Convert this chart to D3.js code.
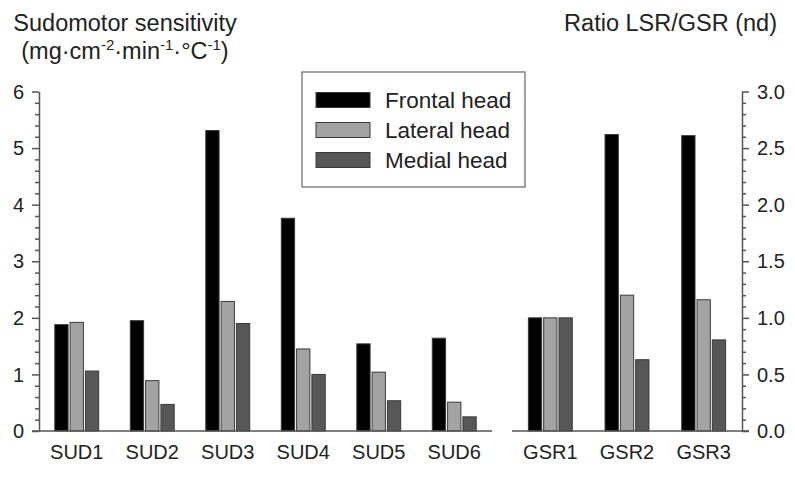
<!DOCTYPE html>
<html>
<head>
<meta charset="utf-8">
<script src="https://cdn.jsdelivr.net/npm/d3@7"></script>
<style>
  html, body { margin: 0; padding: 0; background: #fff; }
  svg { display: block; font-family: "Liberation Sans", Arial, sans-serif; }
</style>
</head>
<body>
<svg id="chart" width="795" height="481"></svg>
<script>
// Sudomotor sensitivity per site (left panel)
const sudCategories = ["SUD1", "SUD2", "SUD3", "SUD4", "SUD5", "SUD6"];
const sudFrontal = [1.88, 1.95, 5.31, 3.76, 1.54, 1.64];
const sudLateral = [1.92, 0.89, 2.29, 1.45, 1.04, 0.51];
const sudMedial  = [1.06, 0.47, 1.90, 1.00, 0.535, 0.25];

// LSR/GSR ratio (right panel)
const gsrCategories = ["GSR1", "GSR2", "GSR3"];
const gsrFrontal = [1.0, 2.62, 2.61];
const gsrLateral = [1.0, 1.20, 1.16];
const gsrMedial  = [1.0, 0.63, 0.805];

const seriesNames = ["Frontal head", "Lateral head", "Medial head"];
const seriesFill = ["#000000", "#a3a3a3", "#575757"];

const leftTicks = [0, 1, 2, 3, 4, 5, 6];
const rightTicks = [0, 0.5, 1.0, 1.5, 2.0, 2.5, 3.0];

const svg = d3.select("#chart");
const axisColor = "#555";
const barStroke = "#3a3a3a";

const y0 = 431, yTop = 91.5;
const yLeft = d3.scaleLinear().domain([0, 6]).range([y0, yTop]);
const yRight = d3.scaleLinear().domain([0, 3]).range([y0, yTop]);

const xLeft = d3.scaleBand().domain(sudCategories).range([39, 492]).padding(0);
const xRight = d3.scaleBand().domain(gsrCategories).range([512, 742]).padding(0);

const barW = 13.3, barStep = 15.3;

function drawBars(cats, seriesArr, x, y) {
  const g = svg.append("g");
  seriesArr.forEach((vals, si) => {
    g.selectAll(null)
      .data(cats.map((c, i) => ({ c, v: vals[i] })))
      .enter().append("rect")
      .attr("x", d => x(d.c) + x.bandwidth() / 2 + (si - 1) * barStep - barW / 2)
      .attr("y", d => y(d.v))
      .attr("width", barW)
      .attr("height", d => y(0) - y(d.v))
      .attr("fill", seriesFill[si])
      .attr("stroke", barStroke)
      .attr("stroke-width", 1);
  });
}

drawBars(sudCategories, [sudFrontal, sudLateral, sudMedial], xLeft, yLeft);
drawBars(gsrCategories, [gsrFrontal, gsrLateral, gsrMedial], xRight, yRight);

// Left y axis with minor ticks every 0.2
const leftAxis = svg.append("g").attr("transform", "translate(39,0)");
leftAxis.call(d3.axisLeft(yLeft).tickValues(d3.range(0, 6.001, 0.2).map(v => +v.toFixed(1)))
  .tickSize(4).tickSizeOuter(0).tickFormat(""));
leftAxis.call(g => g.selectAll(".tick line").filter(d => Math.abs(d - Math.round(d)) < 1e-6).attr("x2", -7));
leftAxis.selectAll("path, line").attr("stroke", axisColor).attr("stroke-width", 1.5);
leftAxis.selectAll(null).data(leftTicks).enter().append("text")
  .attr("x", -15).attr("y", d => yLeft(d)).attr("dy", "0.36em")
  .attr("text-anchor", "end").attr("font-size", 20).attr("fill", "#222")
  .text(d => d);

// Right y axis with minor ticks every 0.1
const rightAxis = svg.append("g").attr("transform", "translate(742,0)");
rightAxis.call(d3.axisRight(yRight).tickValues(d3.range(0, 30.5, 1).map(v => v / 10))
  .tickSize(4).tickSizeOuter(0).tickFormat(""));
rightAxis.call(g => g.selectAll(".tick line").filter(d => Math.abs(d * 2 - Math.round(d * 2)) < 1e-6).attr("x2", 7));
rightAxis.selectAll("path, line").attr("stroke", axisColor).attr("stroke-width", 1.5);
rightAxis.selectAll(null).data(rightTicks).enter().append("text")
  .attr("x", 15).attr("y", d => yRight(d)).attr("dy", "0.36em")
  .attr("text-anchor", "start").attr("font-size", 20).attr("fill", "#222")
  .text(d => d3.format(".1f")(d));

// Baselines
svg.append("line").attr("x1", 32).attr("x2", 492).attr("y1", y0).attr("y2", y0)
  .attr("stroke", axisColor).attr("stroke-width", 1.5);
svg.append("line").attr("x1", 512).attr("x2", 749).attr("y1", y0).attr("y2", y0)
  .attr("stroke", axisColor).attr("stroke-width", 1.5);

// Category labels
function drawCatLabels(cats, x) {
  svg.selectAll(null).data(cats).enter().append("text")
    .attr("x", d => x(d) + x.bandwidth() / 2).attr("y", 459)
    .attr("text-anchor", "middle").attr("font-size", 20).attr("fill", "#222")
    .text(d => d);
}
drawCatLabels(sudCategories, xLeft);
drawCatLabels(gsrCategories, xRight);

// Axis titles
svg.append("text").attr("x", 125).attr("y", 31).attr("text-anchor", "middle")
  .attr("font-size", 23.5).attr("fill", "#222").text("Sudomotor sensitivity");
const unit = svg.append("text").attr("x", 125).attr("y", 59).attr("text-anchor", "middle")
  .attr("font-size", 23.5).attr("fill", "#222");
const unitParts = [["(mg·cm", false], ["-2", true], ["·min", false], ["-1", true], ["·°C", false], ["-1", true], [")", false]];
unitParts.forEach(([t, sup], i) => {
  const prevSup = i > 0 && unitParts[i - 1][1];
  const ts = unit.append("tspan").text(t);
  if (sup) ts.attr("font-size", 15).attr("dy", -9);
  else if (prevSup) ts.attr("dy", 9);
});
svg.append("text").attr("x", 777).attr("y", 31).attr("text-anchor", "end")
  .attr("font-size", 23.5).attr("fill", "#222").text("Ratio LSR/GSR (nd)");

// Legend
const legend = svg.append("g");
legend.append("rect").attr("x", 302).attr("y", 72).attr("width", 223).attr("height", 115)
  .attr("fill", "#fff").attr("stroke", "#666").attr("stroke-width", 1.2);
seriesNames.forEach((name, i) => {
  legend.append("rect").attr("x", 316).attr("y", 92.5 + i * 30).attr("width", 54).attr("height", 15)
    .attr("fill", seriesFill[i]).attr("stroke", barStroke).attr("stroke-width", 1);
  legend.append("text").attr("x", 385).attr("y", 100 + i * 30).attr("dy", "0.36em")
    .attr("font-size", 22.5).attr("fill", "#222").text(name);
});
</script>
</body>
</html>
